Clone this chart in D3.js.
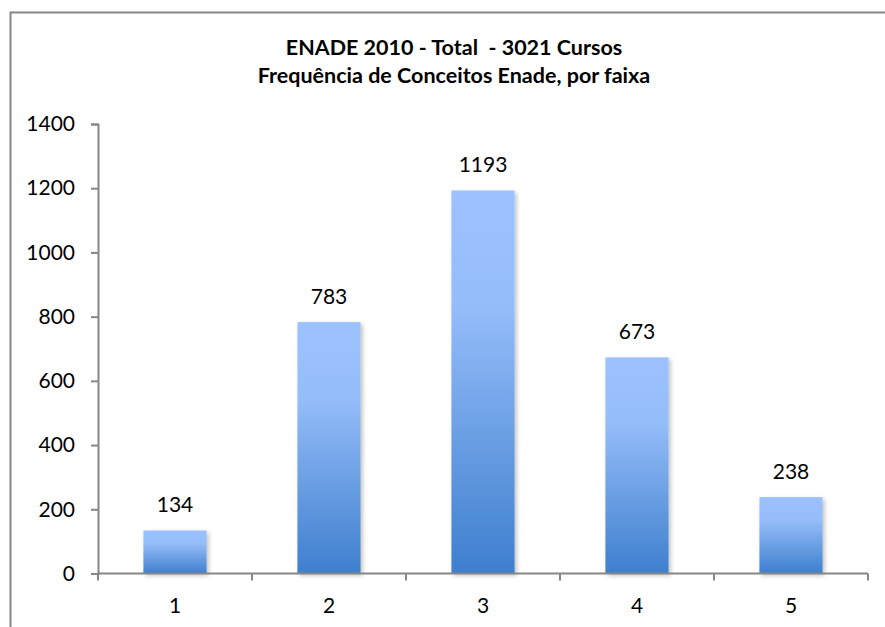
<!DOCTYPE html>
<html>
<head>
<meta charset="utf-8">
<script src="https://cdn.jsdelivr.net/npm/d3@7"></script>
<style>
  body { margin: 0; background: #fff; }
  text { font-family: Lato, "Open Sans", sans-serif; fill: #000; }
</style>
</head>
<body>
<svg id="chart"></svg>
<script>
// data
const categories = ['1', '2', '3', '4', '5'];
const counts = [134, 783, 1193, 673, 238];
const y_ticks = [0, 200, 400, 600, 800, 1000, 1200, 1400];
const title_lines = ['ENADE 2010 - Total  - 3021 Cursos', 'Frequência de Conceitos Enade, por faixa'];

const width = 885;
const height = 627;
const plot = { left: 98, right: 868, top: 124, bottom: 573.5 };
const label_size = '21px';

const svg = d3.select('#chart')
  .attr('width', width)
  .attr('height', height);

const defs = svg.append('defs');
const grad = defs.append('linearGradient')
  .attr('id', 'barGrad')
  .attr('x1', 0).attr('y1', 0).attr('x2', 0).attr('y2', 1);
grad.append('stop').attr('offset', '0%').attr('stop-color', '#9bc2ff');
grad.append('stop').attr('offset', '30%').attr('stop-color', '#95bdf9');
grad.append('stop').attr('offset', '100%').attr('stop-color', '#3e7fce');

const shadow = defs.append('filter').attr('id', 'shadow')
  .attr('x', '-20%').attr('y', '-10%').attr('width', '150%').attr('height', '130%');
shadow.append('feDropShadow')
  .attr('dx', 2).attr('dy', 2).attr('stdDeviation', 2)
  .attr('flood-color', '#000').attr('flood-opacity', 0.25);

// outer chart border (runs off the right/bottom edge)
svg.append('rect')
  .attr('x', 10.5).attr('y', 12.5)
  .attr('width', 888).attr('height', 640)
  .attr('fill', 'none')
  .attr('stroke', '#878787')
  .attr('stroke-width', 2);

const x = d3.scaleBand()
  .domain(categories)
  .range([plot.left, plot.right])
  .paddingInner(0.59)
  .paddingOuter(0.295);

const y = d3.scaleLinear()
  .domain([0, 1400])
  .range([plot.bottom, plot.top]);

// title
svg.append('g').selectAll('text')
  .data(title_lines)
  .join('text')
    .attr('x', 454)
    .attr('y', (d, i) => 55 + i * 28)
    .attr('text-anchor', 'middle')
    .style('font-weight', 'bold')
    .style('font-size', '21.5px')
    .style('white-space', 'pre')
    .text((d) => d);

// bars
const bandStep = x.step();
svg.append('g').selectAll('rect')
  .data(counts)
  .join('rect')
    .attr('x', (d, i) => x(categories[i]))
    .attr('y', (d) => y(d))
    .attr('width', x.bandwidth())
    .attr('height', (d) => y(0) - y(d))
    .attr('fill', 'url(#barGrad)')
    .attr('filter', 'url(#shadow)');

// value labels
svg.append('g').selectAll('text')
  .data(counts)
  .join('text')
    .attr('x', (d, i) => x(categories[i]) + x.bandwidth() / 2)
    .attr('y', (d) => y(d) - 18)
    .attr('text-anchor', 'middle')
    .style('font-size', label_size)
    .text((d) => d);

// y axis
const yAxis = svg.append('g')
  .attr('transform', `translate(${plot.left},0)`)
  .call(d3.axisLeft(y).tickValues(y_ticks).tickSize(7).tickPadding(16).tickFormat(d3.format('d')));

// x axis: ticks on band edges, labels at centres
const xAxis = svg.append('g')
  .attr('transform', `translate(0,${plot.bottom})`);
xAxis.append('line')
  .attr('x1', plot.left).attr('x2', plot.right)
  .attr('stroke', '#868686').attr('stroke-width', 2);
const edges = d3.range(categories.length + 1).map((i) => plot.left + i * bandStep);
xAxis.selectAll('.edge')
  .data(edges)
  .join('line')
    .attr('class', 'edge')
    .attr('x1', (d) => d).attr('x2', (d) => d)
    .attr('y1', 0).attr('y2', 7)
    .attr('stroke', '#868686').attr('stroke-width', 2);
xAxis.selectAll('text')
  .data(categories)
  .join('text')
    .attr('x', (d) => x(d) + x.bandwidth() / 2)
    .attr('y', 39)
    .attr('text-anchor', 'middle')
    .style('font-size', label_size)
    .text((d) => d);

yAxis.select('.domain').attr('stroke', '#868686').attr('stroke-width', 2);
yAxis.selectAll('.tick line').attr('stroke', '#868686').attr('stroke-width', 2);
yAxis.selectAll('.tick text')
  .style('font-size', label_size)
  .style('font-family', 'Lato, "Open Sans", sans-serif')
  .attr('fill', '#000');
</script>
</body>
</html>
